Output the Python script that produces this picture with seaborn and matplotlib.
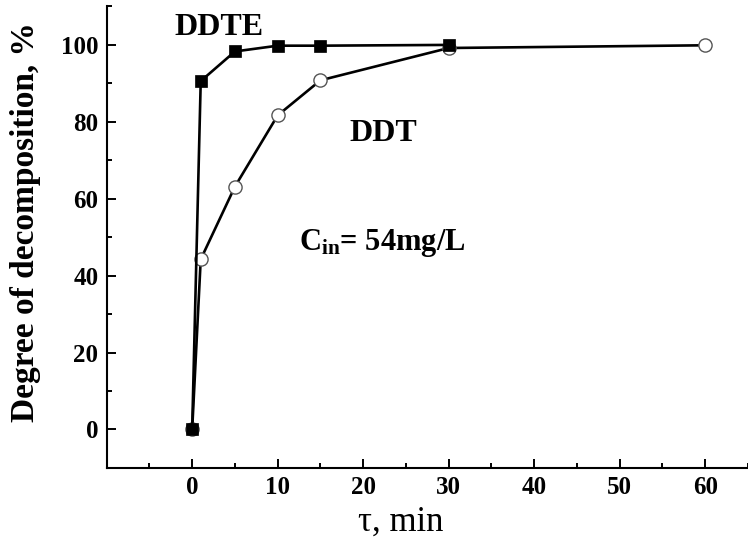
import numpy as np
import pandas as pd
import seaborn as sns
import matplotlib.pyplot as plt
from matplotlib.ticker import MultipleLocator

# dados
tempo_ddte = [0, 1, 5, 10, 15, 30]
grau_ddte = [0, 90.5, 98.2, 99.7, 99.7, 99.9]
tempo_ddt = [0, 1, 5, 10, 15, 30, 60]
grau_ddt = [0, 44.2, 63.1, 81.6, 90.7, 99.1, 99.8]

sns.set_theme(style="ticks")
plt.rcParams["font.family"] = ["Liberation Serif", "DejaVu Serif"]
plt.rcParams["mathtext.fontset"] = "custom"
plt.rcParams["mathtext.rm"] = "Liberation Serif:bold"
plt.rcParams["mathtext.it"] = "Liberation Serif:bold"
plt.rcParams["mathtext.bf"] = "Liberation Serif:bold"
for k in ["text.color", "axes.labelcolor", "xtick.color", "ytick.color",
          "xtick.labelcolor", "ytick.labelcolor"]:
    plt.rcParams[k] = "black"

fig = plt.figure(figsize=(7.48, 5.48), dpi=100)
ax = fig.add_axes([0.1426, 0.146, 0.8574, 0.843])

df_ddt = pd.DataFrame({"t": tempo_ddt, "g": grau_ddt})
df_ddte = pd.DataFrame({"t": tempo_ddte, "g": grau_ddte})

sns.lineplot(data=df_ddt, x="t", y="g", ax=ax, color="black", linewidth=1.9,
             marker="o", markersize=9.5, markerfacecolor="white",
             markeredgecolor="#555555", markeredgewidth=1.0, zorder=3)
sns.lineplot(data=df_ddte, x="t", y="g", ax=ax, color="black", linewidth=1.9,
             marker="s", markersize=8.5, markerfacecolor="black",
             markeredgecolor="black", markeredgewidth=0.5, zorder=4)

ax.set_xlim(-10, 65)
ax.set_ylim(-10, 110)
ax.xaxis.set_minor_locator(MultipleLocator(5))
ax.yaxis.set_minor_locator(MultipleLocator(10))
ax.set_xticks(np.arange(0, 61, 10))
ax.set_yticks(np.arange(0, 101, 20))

ax.tick_params(which="major", direction="in", length=6.5, width=1.4,
               labelsize=18, pad=6, color="black", labelcolor="black")
ax.tick_params(which="minor", direction="in", length=3.5, width=1.4, color="black")
for lab in ax.get_xticklabels() + ax.get_yticklabels():
    lab.set_fontweight("bold")

sns.despine(ax=ax)
for s in ["left", "bottom"]:
    ax.spines[s].set_linewidth(1.5)
    ax.spines[s].set_color("black")

ax.set_ylabel("Degree of decomposition, %", fontsize=24, fontweight="bold")
ax.set_xlabel("\u03c4, min", fontsize=25)
ax.yaxis.set_label_coords(-0.103, 0.533)
ax.xaxis.set_label_coords(0.459, -0.082)

ax.text(3.1, 104.3, "DDTE", fontsize=23, fontweight="bold", ha="center", va="center")
ax.text(22.3, 76.8, "DDT", fontsize=23, fontweight="bold", ha="center", va="center")
ax.text(12.5, 46.6, r"C$_{\rm in}$= 54mg/L", fontsize=22, fontweight="bold",
        ha="left", va="baseline")

fig.savefig("out.png", dpi=100)
